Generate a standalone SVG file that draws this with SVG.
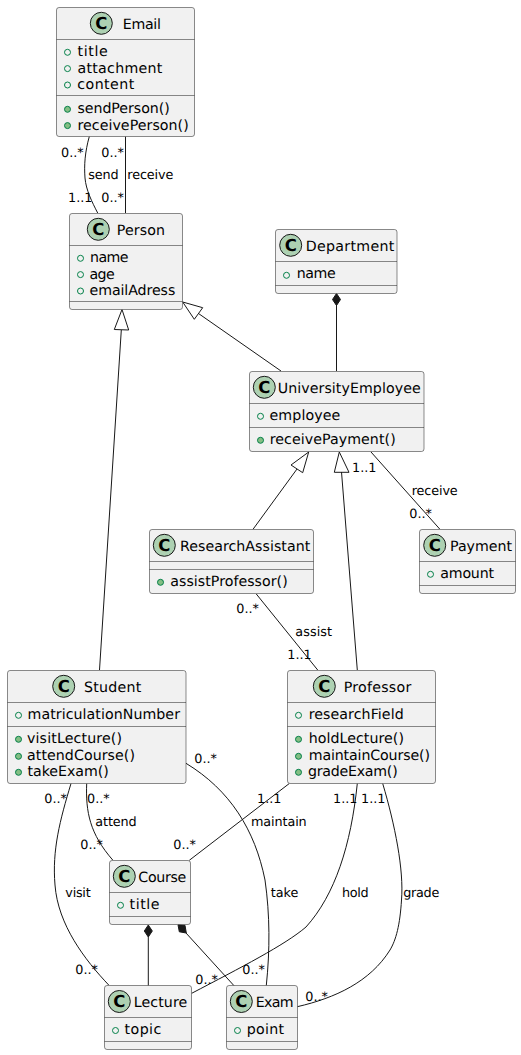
<svg xmlns="http://www.w3.org/2000/svg" width="521" height="1055" viewBox="0 0 521 1055">
<style>
text{font-family:"DejaVu Sans",sans-serif;fill:#000;text-rendering:geometricPrecision}
.n{font-size:14.2px}
.l{font-size:12.8px}
.c{font-size:16.5px;font-weight:bold;text-anchor:middle}
.box{fill:#F1F1F1;stroke:#181818;stroke-width:.5}
.sep{stroke:#181818;stroke-width:.5;fill:none}
.spot{fill:#ADD1B2;stroke:#181818;stroke-width:1}
.f{fill:none;stroke:#038048;stroke-width:1}
.m{fill:#84BE84;stroke:#038048;stroke-width:1}
.e{fill:none;stroke:#181818;stroke-width:1}
.t{fill:none;stroke:#181818;stroke-width:1}
.d{fill:#181818;stroke:#181818;stroke-width:1}
</style>
<g id="connectors">
<path class="e" d="M89.3,136.5C85,152 84,165 85,178C86,190 92,202 97.7,213"/>
<path class="e" d="M125.5,136.5L125.5,213"/>
<path class="e" d="M99.5,670L121.3,330"/>
<polygon class="t" points="122,309.5 114.3,329.5 128.7,330"/>
<path class="e" d="M281,371L198.5,313.5"/>
<polygon class="t" points="182.7,302 194.3,319.3 202.7,307.7"/>
<path class="e" d="M336.5,371L336.5,305"/>
<polygon class="d" points="336.5,293.5 340.5,299.5 336.5,305.5 332.5,299.5"/>
<path class="e" d="M253,529.3L297,469"/>
<polygon class="t" points="308.7,452 291,465 302.7,472.7"/>
<path class="e" d="M357.3,670L341.5,472"/>
<polygon class="t" points="339.3,452 334.3,472.3 349,472.3"/>
<path class="e" d="M371,452L439.7,529"/>
<path class="e" d="M256.3,594L317.7,670"/>
<path class="e" d="M71,783.5C60,820 52,850 55,885C58,925 85,960 108.7,985"/>
<path class="e" d="M86.7,783.5C85.5,812 90,834 112.7,860"/>
<path class="e" d="M186,763.3C230,790 255,830 265,880C270,915 270,950 266.3,985.5"/>
<path class="e" d="M289.3,783.5L189.3,860.3"/>
<path class="e" d="M357.3,783.5C351,845 335,895 306,927C285,945 240,968 191.7,993.3"/>
<path class="e" d="M382.7,783.5C395,825 404,870 401.5,900C400,925 396,940 390,950C370,982 335,998 297.3,1006.7"/>
<path class="e" d="M148.3,936.7L148.3,985.7"/>
<polygon class="d" points="148.3,925 152.3,931 148.3,937 144.3,931"/>
<path class="e" d="M186,933L234,985.7"/>
<polygon class="d" points="178,924.8 185,925.3 186.3,933 179.3,931.8"/>
</g>
<g id="Email"><rect class="box" x="56.5" y="7.5" width="138" height="129" rx="2.5"/><path class="sep" d="M56.5,39.5H194.5M56.5,95.5H194.5"/><circle class="spot" cx="101.3" cy="23.3" r="11"/><text class="c" x="101.3" y="29">C</text><text class="n" x="122.7" y="28.5" textLength="38.3">Email</text><circle class="f" cx="67.5" cy="52.3" r="3"/><text class="n" x="77.5" y="56" textLength="30.2">title</text><circle class="f" cx="67.5" cy="68.6" r="3"/><text class="n" x="77.5" y="72.5" textLength="84.8">attachment</text><circle class="f" cx="67.5" cy="85" r="3"/><text class="n" x="77.3" y="89" textLength="57">content</text><circle class="m" cx="67.5" cy="109.3" r="3"/><text class="n" x="77.5" y="113" textLength="92.2">sendPerson()</text><circle class="m" cx="67.5" cy="125.6" r="3"/><text class="n" x="77.5" y="129.5" textLength="111.2">receivePerson()</text></g>
<g id="Person"><rect class="box" x="69.5" y="213.5" width="113" height="96" rx="2.5"/><path class="sep" d="M69.5,245.5H182.5M69.5,301.5H182.5"/><circle class="spot" cx="98.3" cy="229.3" r="11"/><text class="c" x="98.3" y="235">C</text><text class="n" x="116.7" y="234.5" textLength="48.3">Person</text><circle class="f" cx="80.5" cy="258.3" r="3"/><text class="n" x="90" y="262" textLength="38.5">name</text><circle class="f" cx="80.5" cy="274.6" r="3"/><text class="n" x="89.5" y="278.5" textLength="25.2">age</text><circle class="f" cx="80.5" cy="291" r="3"/><text class="n" x="89.5" y="295" textLength="85.8">emailAdress</text></g>
<g id="Department"><rect class="box" x="275.5" y="229.5" width="121.5" height="64" rx="2.5"/><path class="sep" d="M275.5,261.5H397M275.5,285.5H397"/><circle class="spot" cx="290.7" cy="245.3" r="11"/><text class="c" x="290.7" y="251">C</text><text class="n" x="305.7" y="250.5" textLength="88.6">Department</text><circle class="f" cx="286.5" cy="275.3" r="3"/><text class="n" x="296.7" y="278" textLength="39">name</text></g>
<g id="UniversityEmployee"><rect class="box" x="249.5" y="371.5" width="174.5" height="80" rx="2.5"/><path class="sep" d="M249.5,403.5H424M249.5,427.5H424"/><circle class="spot" cx="264.3" cy="387.3" r="11"/><text class="c" x="264.3" y="393">C</text><text class="n" x="277.7" y="392.5" textLength="143">UniversityEmployee</text><circle class="f" cx="260.5" cy="416.3" r="3"/><text class="n" x="269.5" y="420" textLength="70.8">employee</text><circle class="m" cx="260.5" cy="440.3" r="3"/><text class="n" x="269.7" y="444" textLength="126">receivePayment()</text></g>
<g id="ResearchAssistant"><rect class="box" x="149.5" y="529.5" width="164" height="64" rx="2.5"/><path class="sep" d="M149.5,561.5H313.5M149.5,569.5H313.5"/><circle class="spot" cx="164.3" cy="545.3" r="11"/><text class="c" x="164.3" y="551">C</text><text class="n" x="180" y="550.5" textLength="130.3">ResearchAssistant</text><circle class="m" cx="160.5" cy="582.3" r="3"/><text class="n" x="170.3" y="586" textLength="117.4">assistProfessor()</text></g>
<g id="Payment"><rect class="box" x="419.5" y="529.5" width="96" height="64" rx="2.5"/><path class="sep" d="M419.5,561.5H515.5M419.5,585.5H515.5"/><circle class="spot" cx="434.7" cy="545.3" r="11"/><text class="c" x="434.7" y="551">C</text><text class="n" x="450" y="550.5" textLength="62">Payment</text><circle class="f" cx="430.5" cy="574.3" r="3"/><text class="n" x="440.3" y="578" textLength="53.7">amount</text></g>
<g id="Student"><rect class="box" x="7.5" y="670.5" width="178.5" height="113" rx="2.5"/><path class="sep" d="M7.5,702.5H186M7.5,726.5H186"/><circle class="spot" cx="63.7" cy="686.3" r="11"/><text class="c" x="63.7" y="692">C</text><text class="n" x="84" y="691.5" textLength="57.3">Student</text><circle class="f" cx="18.5" cy="715.3" r="3"/><text class="n" x="27.5" y="719" textLength="152.5">matriculationNumber</text><circle class="m" cx="18.5" cy="739.3" r="3"/><text class="n" x="27" y="743" textLength="95">visitLecture()</text><circle class="m" cx="18.5" cy="756.3" r="3"/><text class="n" x="27" y="760" textLength="108">attendCourse()</text><circle class="m" cx="18.5" cy="772.3" r="3"/><text class="n" x="27.5" y="776" textLength="81.2">takeExam()</text></g>
<g id="Professor"><rect class="box" x="287.5" y="670.5" width="148" height="113" rx="2.5"/><path class="sep" d="M287.5,702.5H435.5M287.5,726.5H435.5"/><circle class="spot" cx="324.3" cy="686.3" r="11"/><text class="c" x="324.3" y="692">C</text><text class="n" x="343.7" y="691.5" textLength="67.6">Professor</text><circle class="f" cx="298.5" cy="715.3" r="3"/><text class="n" x="308.7" y="719" textLength="95">researchField</text><circle class="m" cx="298.5" cy="739.3" r="3"/><text class="n" x="308.7" y="743" textLength="95.3">holdLecture()</text><circle class="m" cx="298.5" cy="756.3" r="3"/><text class="n" x="308.7" y="760" textLength="121.3">maintainCourse()</text><circle class="m" cx="298.5" cy="772.3" r="3"/><text class="n" x="308" y="776" textLength="89.7">gradeExam()</text></g>
<g id="Course"><rect class="box" x="109.5" y="860.5" width="81" height="64" rx="2.5"/><path class="sep" d="M109.5,892.5H190.5M109.5,916.5H190.5"/><circle class="spot" cx="124.3" cy="876.3" r="11"/><text class="c" x="124.3" y="882">C</text><text class="n" x="138.3" y="881.5" textLength="48">Course</text><circle class="f" cx="120.5" cy="905.3" r="3"/><text class="n" x="129.5" y="909" textLength="30">title</text></g>
<g id="Lecture"><rect class="box" x="104.5" y="985.5" width="87" height="64" rx="2.5"/><path class="sep" d="M104.5,1017.5H191.5M104.5,1041.5H191.5"/><circle class="spot" cx="119.3" cy="1001.5" r="11"/><text class="c" x="119.3" y="1007.2">C</text><text class="n" x="133.7" y="1006.5" textLength="53.6">Lecture</text><circle class="f" cx="115.5" cy="1030.5" r="3"/><text class="n" x="124.5" y="1034" textLength="36.8">topic</text></g>
<g id="Exam"><rect class="box" x="226.5" y="985.5" width="71" height="64" rx="2.5"/><path class="sep" d="M226.5,1017.5H297.5M226.5,1041.5H297.5"/><circle class="spot" cx="241.3" cy="1001.5" r="11"/><text class="c" x="241.3" y="1007.2">C</text><text class="n" x="255.7" y="1006.5" textLength="38">Exam</text><circle class="f" cx="237.5" cy="1030.5" r="3"/><text class="n" x="246.7" y="1034" textLength="37.3">point</text></g>
<g id="labels">
<text class="l" x="61" y="156.5">0..*</text><text class="l" x="101.3" y="157">0..*</text><text class="l" x="88.3" y="179" textLength="30.4">send</text><text class="l" x="127.3" y="179" textLength="46">receive</text><text class="l" x="68" y="202">1..1</text><text class="l" x="101.3" y="202">0..*</text>
<text class="l" x="352" y="472">1..1</text><text class="l" x="411.7" y="495" textLength="46">receive</text><text class="l" x="409.3" y="517.5">0..*</text>
<text class="l" x="236.3" y="612.5">0..*</text><text class="l" x="295.3" y="636" textLength="36.7">assist</text><text class="l" x="287.3" y="658.5">1..1</text>
<text class="l" x="194.3" y="762.5">0..*</text><text class="l" x="44.3" y="803">0..*</text><text class="l" x="87" y="803">0..*</text><text class="l" x="95.3" y="826" textLength="41.4">attend</text><text class="l" x="80.3" y="848.5">0..*</text><text class="l" x="173.3" y="848.5">0..*</text><text class="l" x="65.3" y="897" textLength="25.4">visit</text><text class="l" x="75.3" y="974">0..*</text><text class="l" x="195.3" y="983.5">0..*</text>
<text class="l" x="257" y="803">1..1</text><text class="l" x="251" y="826" textLength="55.7">maintain</text><text class="l" x="333" y="803">1..1</text><text class="l" x="361" y="803">1..1</text><text class="l" x="270.7" y="897" textLength="27.6">take</text><text class="l" x="342" y="897" textLength="26.7">hold</text><text class="l" x="403.3" y="897" textLength="36">grade</text><text class="l" x="242.3" y="974">0..*</text><text class="l" x="305.3" y="1000.5">0..*</text>
</g>
</svg>
